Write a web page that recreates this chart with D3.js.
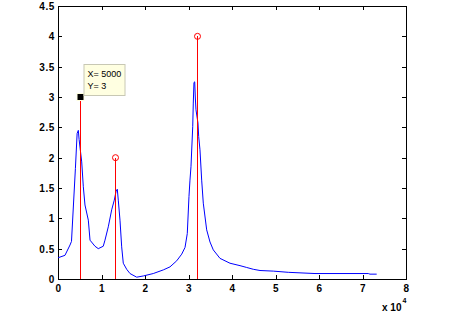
<!DOCTYPE html>
<html>
<head>
<meta charset="utf-8">
<script src="https://cdn.jsdelivr.net/npm/d3@7/dist/d3.min.js"></script>
<style>
  body { margin: 0; background: #fff; }
  text { font-family: "Liberation Sans", Arial, Helvetica, sans-serif; }
</style>
</head>
<body>
<div id="chart"></div>
<script>
// spectrum (Hz, magnitude)
const freq = [0, 1600, 2760, 3100, 4000, 4400, 4670, 4850, 5450, 5820, 6200, 6970, 7360,
  8500, 9260, 10400, 10800, 11560, 12340, 12940, 13330, 13630, 13860, 14250, 14640,
  15010, 15790, 16550, 18090, 19610, 21900, 24210, 25750, 27290, 28440, 29200, 29720,
  30110, 30340, 30570, 30970, 31100, 31260, 31430, 31560, 31720, 32180, 32340, 32640,
  33030, 33400, 34180, 34940, 35700, 37240, 39540, 41840, 43380, 44900, 46440, 49490,
  52940, 59080, 71330, 71720, 73260];
const amp = [0.35, 0.39, 0.56, 0.62, 1.82, 2.40, 2.45, 2.30, 1.93, 1.52, 1.22, 0.97, 0.64,
  0.54, 0.50, 0.54, 0.64, 0.86, 1.14, 1.30, 1.44, 1.48, 1.30, 0.97, 0.53,
  0.26, 0.16, 0.09, 0.03, 0.05, 0.09, 0.15, 0.20, 0.30, 0.41, 0.52, 0.75,
  1.36, 1.63, 1.85, 2.51, 2.90, 3.24, 3.25, 3.00, 2.79, 2.57, 2.35, 2.13,
  1.63, 1.25, 0.81, 0.61, 0.48, 0.34, 0.26, 0.22, 0.19, 0.16, 0.14, 0.13,
  0.11, 0.09, 0.09, 0.08, 0.08];

// stems
const stemX = [5000, 13000, 32000];
const stemY = [3, 2, 4];

// data tip
const tipX = 5000;
const tipY = 3;

const xTicks = [0, 1, 2, 3, 4, 5, 6, 7, 8];
const yTicks = [0, 0.5, 1, 1.5, 2, 2.5, 3, 3.5, 4, 4.5];

const width = 449;
const height = 317;
const margin = { top: 6, right: 43, bottom: 38, left: 58 };
const plotWidth = width - margin.left - margin.right;
const plotHeight = height - margin.top - margin.bottom;

const svg = d3.select('#chart')
    .append('svg')
    .attr('width', width)
    .attr('height', height);

const plot = svg.append('g')
    .attr('transform', `translate(${margin.left},${margin.top})`);

const xScale = d3.scaleLinear().domain([0, 80000]).range([0, plotWidth]);
const yScale = d3.scaleLinear().domain([0, 4.5]).range([plotHeight, 0]);

// ticks inward on all four sides, matlab style
const xAxis = d3.axisBottom(xScale).tickValues(xTicks.map(d => d * 1e4))
    .tickFormat((d, i) => xTicks[i]).tickSizeInner(-4).tickSizeOuter(0).tickPadding(6);
const yAxis = d3.axisLeft(yScale).tickValues(yTicks)
    .tickFormat(d3.format('')).tickSizeInner(-4).tickSizeOuter(0).tickPadding(3);
const xTop = d3.axisTop(xScale).tickValues(xTicks.map(d => d * 1e4))
    .tickFormat('').tickSizeInner(-4).tickSizeOuter(0);
const yRight = d3.axisRight(yScale).tickValues(yTicks)
    .tickFormat('').tickSizeInner(-4).tickSizeOuter(0);

plot.append('g').attr('class', 'x_axis')
    .attr('transform', `translate(0,${plotHeight})`).call(xAxis);
plot.append('g').attr('class', 'y_axis').call(yAxis);
plot.append('g').call(xTop);
plot.append('g').attr('transform', `translate(${plotWidth},0)`).call(yRight);

plot.selectAll('.domain').remove();
plot.selectAll('.tick line')
    .attr('stroke', '#000')
    .attr('shape-rendering', 'crispEdges');
plot.selectAll('.tick text')
    .attr('font-size', 10)
    .attr('font-weight', 'bold')
    .attr('letter-spacing', 0.6)
    .attr('fill', '#000');
plot.selectAll('.y_axis .tick text').attr('dy', '0.36em');

// box
plot.append('rect')
    .attr('width', plotWidth)
    .attr('height', plotHeight)
    .attr('fill', 'none')
    .attr('stroke', '#000')
    .attr('shape-rendering', 'crispEdges');

// x 10^4 exponent label
const expo = plot.append('text')
    .attr('x', plotWidth - 24)
    .attr('y', plotHeight + 32)
    .attr('font-size', 10)
    .attr('font-weight', 'bold');
expo.append('tspan').text('x 10');
expo.append('tspan').attr('font-size', 7).attr('dy', -8).attr('dx', 1).text('4');

// spectrum line
const line = d3.line()
    .x((d, i) => xScale(freq[i]))
    .y(d => yScale(d));

plot.append('path')
    .datum(amp)
    .attr('fill', 'none')
    .attr('stroke', '#0000ff')
    .attr('stroke-width', 1)
    .attr('d', line);

// stems
plot.selectAll('.stem')
    .data(stemX)
    .join('line')
    .attr('class', 'stem')
    .attr('x1', d => Math.round(xScale(d)) + 0.5)
    .attr('x2', d => Math.round(xScale(d)) + 0.5)
    .attr('y1', yScale(0))
    .attr('y2', (d, i) => yScale(stemY[i]))
    .attr('stroke', '#ff0000')
    .attr('stroke-width', 1)
    .attr('shape-rendering', 'crispEdges');

plot.selectAll('.stem-mark')
    .data(stemX)
    .join('circle')
    .attr('class', 'stem-mark')
    .attr('cx', d => Math.round(xScale(d)) + 0.5)
    .attr('cy', (d, i) => yScale(stemY[i]))
    .attr('r', 3)
    .attr('fill', 'none')
    .attr('stroke', '#ff0000');

// data tip
const tx = Math.round(xScale(tipX)) + 0.5;
const ty = yScale(tipY);
plot.append('rect')
    .attr('x', tx - 3.5)
    .attr('y', ty - 3.5)
    .attr('width', 7)
    .attr('height', 7)
    .attr('fill', '#000')
    .attr('stroke', '#ffffe1');

const tip = plot.append('g')
    .attr('transform', `translate(${tx + 3},${ty - 33})`);
tip.append('rect')
    .attr('x', 0.5)
    .attr('y', 0.5)
    .attr('width', 41)
    .attr('height', 31)
    .attr('fill', '#ffffe1')
    .attr('stroke', '#c8c8b4');
tip.append('text')
    .attr('x', 4)
    .attr('y', 13)
    .attr('font-size', 9)
    .text('X= ' + tipX);
tip.append('text')
    .attr('x', 4)
    .attr('y', 25)
    .attr('font-size', 9)
    .text('Y= ' + tipY);
</script>
</body>
</html>
